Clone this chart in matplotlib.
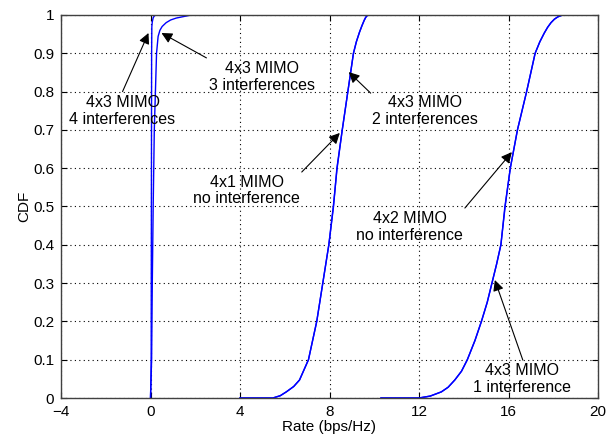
import matplotlib
matplotlib.use('Agg')
import matplotlib.pyplot as plt
import numpy as np

plt.rcParams['font.family'] = ['Liberation Sans', 'DejaVu Sans']

# ── Data ──────────────────────────────────────────────────────────────────────
# near-zero curves
x_4int = [0.0, 0.02, 0.03, 0.04, 0.05, 0.06, 0.08, 0.12, 0.2]
y_4int = [0.0, 0.05, 0.1, 0.5, 0.9, 0.97, 0.982, 0.993, 1.0]
x_3int = [0.0, 0.05, 0.08, 0.12, 0.17, 0.22, 0.27, 0.34, 0.42, 0.52, 0.7, 0.9, 1.15, 1.4, 1.83]
y_3int = [0.0, 0.1, 0.3, 0.5, 0.7, 0.8, 0.9, 0.944, 0.96, 0.97, 0.98, 0.987, 0.992, 0.995, 1.0]
# middle curves
x_2int = [4.0, 5.47, 5.8, 6.07, 6.4, 6.66, 7.06, 7.43, 7.70, 7.97, 8.18, 8.33, 8.57, 8.82,
          9.07, 9.2, 9.34, 9.45, 9.55, 9.62, 9.71]
y_2int = [0.0, 0.0, 0.006, 0.016, 0.03, 0.047, 0.1, 0.2, 0.3, 0.4, 0.5, 0.6, 0.7, 0.8,
          0.9, 0.93, 0.955, 0.972, 0.986, 0.994, 1.0]
x_4x1 = [4.0, 5.47, 5.8, 6.07, 6.4, 6.66, 7.06, 7.43, 7.70, 7.97, 8.17, 8.34, 8.57, 8.82,
         9.07, 9.2, 9.34, 9.45, 9.55, 9.62, 9.71]
y_4x1 = [0.0, 0.0, 0.006, 0.016, 0.03, 0.047, 0.1, 0.2, 0.3, 0.4, 0.5, 0.6, 0.7, 0.8,
         0.9, 0.93, 0.955, 0.972, 0.986, 0.994, 1.0]
# right curves
x_1int = [10.3, 12.0, 12.5, 13.0, 13.3, 13.6, 13.9, 14.16, 14.5, 14.79, 15.05, 15.26, 15.47, 15.66,
          15.85, 16.08, 16.4, 16.81, 17.19, 17.4, 17.6, 17.75, 17.9, 18.05, 18.2, 18.42]
y_1int = [0.0, 0.0, 0.005, 0.016, 0.028, 0.047, 0.07, 0.1, 0.15, 0.2, 0.25, 0.3, 0.35, 0.4,
          0.5, 0.6, 0.7, 0.8, 0.9, 0.93, 0.953, 0.968, 0.98, 0.989, 0.995, 1.0]
x_4x2 = [10.3, 12.0, 12.5, 13.0, 13.3, 13.6, 13.9, 14.16, 14.5, 14.79, 15.05, 15.26, 15.47, 15.66,
         15.84, 16.08, 16.4, 16.81, 17.19, 17.4, 17.6, 17.75, 17.9, 18.05, 18.2, 18.42]
y_4x2 = [0.0, 0.0, 0.005, 0.016, 0.028, 0.047, 0.07, 0.1, 0.15, 0.2, 0.25, 0.3, 0.35, 0.4,
         0.5, 0.6, 0.7, 0.8, 0.9, 0.93, 0.953, 0.968, 0.98, 0.989, 0.995, 1.0]

x_ticks = [-4, 0, 4, 8, 12, 16, 20]
y_ticks = [0, 0.1, 0.2, 0.3, 0.4, 0.5, 0.6, 0.7, 0.8, 0.9, 1]
y_ticklabels = ['0', '0.1', '0.2', '0.3', '0.4', '0.5', '0.6', '0.7', '0.8', '0.9', '1']

# (label, text centre, arrow tail, arrow head)
notes = [
    ('4x3 MIMO\n4 interferences', (-1.25, 0.749), (-1.25, 0.80), (-0.09, 0.953)),
    ('4x3 MIMO\n3 interferences', (4.97, 0.838), (2.5, 0.888), (0.49, 0.953)),
    ('4x3 MIMO\n2 interferences', (12.26, 0.749), (9.84, 0.796), (8.86, 0.851)),
    ('4x1 MIMO\nno interference', (4.30, 0.542), (6.76, 0.59), (8.46, 0.692)),
    ('4x2 MIMO\nno interference', (11.59, 0.446), (14.05, 0.496), (16.15, 0.642)),
    ('4x3 MIMO\n1 interference', (16.6, 0.05), (16.64, 0.099), (15.39, 0.308)),
]

# ── Figure ────────────────────────────────────────────────────────────────────
fig = plt.figure(figsize=(6.06, 4.41), dpi=100)
ax = fig.add_axes([61/606, 43/441, 537/606, 383/441])

BLUE = '#0000ff'
for xs, ys in [(x_4int, y_4int), (x_3int, y_3int), (x_2int, y_2int),
               (x_4x1, y_4x1), (x_1int, y_1int), (x_4x2, y_4x2)]:
    ax.plot(xs, ys, color=BLUE, lw=1.0)

ax.set_xlim(-4, 20); ax.set_ylim(0, 1)
ax.set_xticks(x_ticks)
ax.set_yticks(y_ticks)
ax.set_yticklabels(y_ticklabels)
ax.tick_params(direction='in', length=4, top=True, right=True, labelsize=11, pad=5)
ax.grid(True, color='black', ls=(0, (1, 3)), lw=0.8)
for s in ax.spines.values():
    s.set_color('#404040'); s.set_linewidth(1.0)

ax.set_xlabel('Rate (bps/Hz)', fontsize=11, labelpad=1)
ax.set_ylabel('CDF', fontsize=11, labelpad=1)

for lbl, tpos, tail, head in notes:
    ax.annotate('', xy=head, xytext=tail,
                arrowprops=dict(arrowstyle='-|>', color='black', lw=0.8,
                                mutation_scale=16, shrinkA=0, shrinkB=0))
    ax.text(tpos[0], tpos[1], lbl, fontsize=11.5, ha='center', va='center',
            linespacing=1.15)

fig.savefig('out.png', dpi=100, facecolor='white')
